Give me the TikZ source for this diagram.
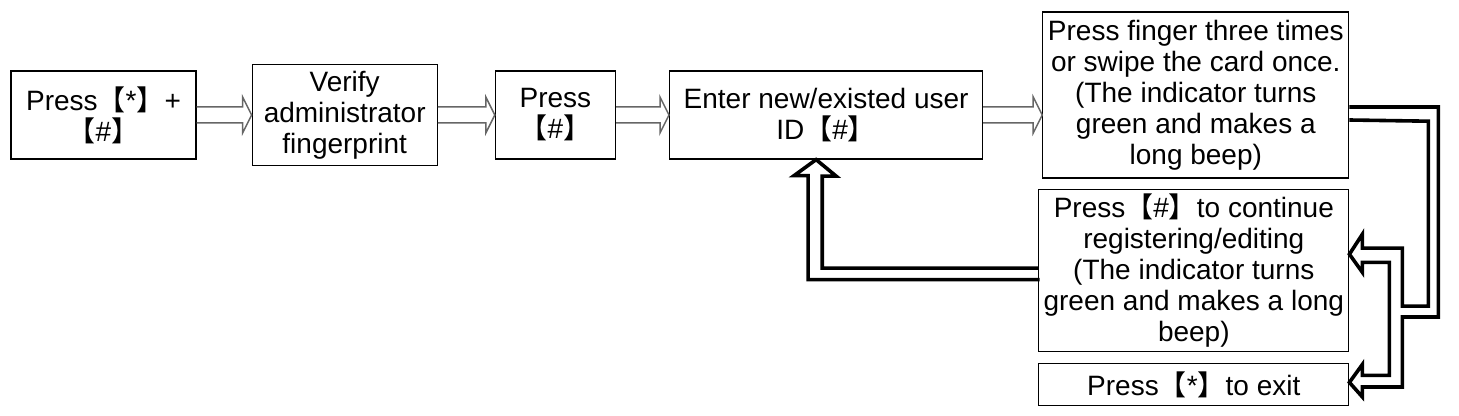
\documentclass[tikz,border=0pt]{standalone}
\usepackage{fontspec}
\setmainfont{Liberation Sans}
\newfontfamily\cjk{Noto Sans CJK SC}
\usetikzlibrary{positioning, calc}
\newcommand{\lb}{{\cjk 【}}
\newcommand{\rb}{{\cjk 】}}

\tikzset{
  box/.style={draw, line width=0.6pt, align=center, inner sep=1pt,
    font=\fontsize{14}{15.5}\selectfont},
  hollow/.style={draw=black!60, line width=0.75pt},
  pipe/.style={draw, line width=1.8pt, line join=miter}
}

\begin{document}
\begin{tikzpicture}[x=0.5pt, y=-0.5pt]
\useasboundingbox (0,0) rectangle (1459,416);

\node[box, minimum width=92.5pt, minimum height=44pt] (b1) at (103.5,115) {Press\lb*\rb+\\\lb\#\rb};
\node[box, minimum width=92.5pt, minimum height=50.5pt] (b2) [right=27.5pt of b1] {Verify\\administrator\\fingerprint};
\node[box, minimum width=60pt, minimum height=44pt] (b3) [right=28.5pt of b2] {Press\\\lb\#\rb};
\node[box, minimum width=156.5pt, minimum height=44pt] (b4) [right=26.5pt of b3] {Enter new/existed user\\ID\lb\#\rb};
\node[box, minimum width=153pt, minimum height=83pt] (b5) [right=29.5pt of b4, yshift=10pt]
  {Press finger three times\\or swipe the card once.\\(The indicator turns\\green and makes a\\long beep)};
\node[box, minimum width=155pt, minimum height=81pt] (b6) [below=5pt of b5.south east, anchor=north east]
  {Press\lb\#\rb to continue\\registering/editing\\(The indicator turns\\green and makes a long\\beep)};
\node[box, minimum width=155pt, minimum height=21pt] (b7) [below=5.5pt of b6.south east, anchor=north east]
  {Press\lb*\rb to exit};

% hollow arrows along the top row
\foreach \a/\b in {b1/b2, b2/b3, b3/b4, b4/b5}
  \draw[hollow] ($(\a.east)+(0,-8)$) -- ($(\a.east -| \b.west)+(-9,-8)$) -- ++(0,-10)
    -- (\a.east -| \b.west) -- ++(-9,18) -- ++(0,-10) -- ($(\a.east)+(0,8)$);

% back to the user ID
\coordinate (up) at ($(b4.south)+(-10,0)$);
\draw[pipe] ($(b6.west)+(0,-2)$) -- ++(-216,0) -- ++(0,-92) -- ++(14,0) -- (up)
  -- ++(-22,16) -- ++(14,0) -- ++(0,104) -- ++(231.5,0);

% split to continue or exit
\coordinate (t6) at ($(b6.east)+(0,-16)$);
\coordinate (t7) at ($(b7.east)+(0,-2)$);
\draw[pipe] ($(b5.east)+(0,12)$) -- ++(89,0) -- ++(0,210) -- ++(-36,0) -- ++(0,70)
  -- ++(-40,0) -- ++(0,10) -- (t7) -- ++(13,-18) -- ++(0,11) -- ++(27,0) -- ++(0,-113)
  -- ++(-27,0) -- ++(0,10) -- (t6) -- ++(13,-20) -- ++(0,14) -- ++(40,0) -- ++(0,58)
  -- ++(26,0) -- ++(0,-185) -- ($(b5.east)+(0,25)$);
\end{tikzpicture}
\end{document}
